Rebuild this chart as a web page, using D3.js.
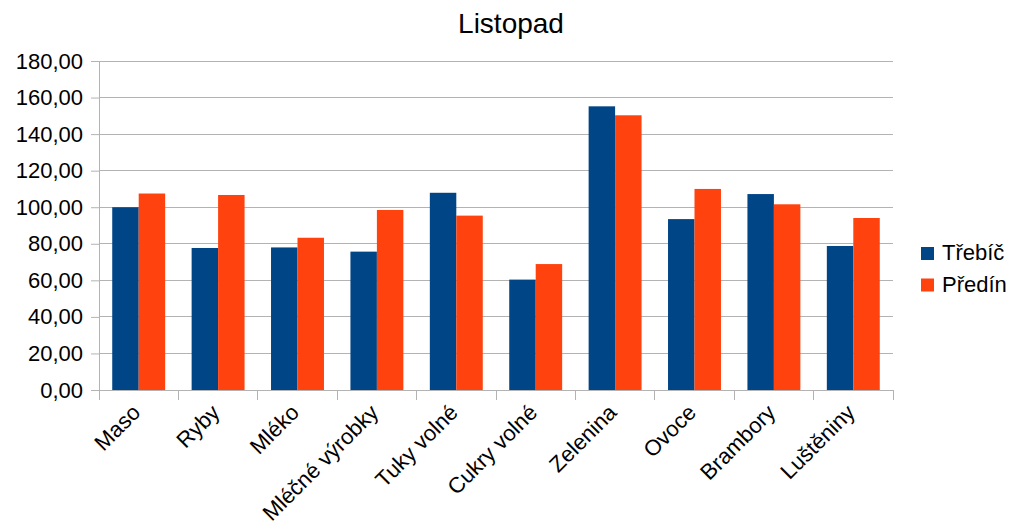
<!DOCTYPE html>
<html>
<head>
<meta charset="utf-8">
<script src="https://cdn.jsdelivr.net/npm/d3@7/dist/d3.min.js"></script>
<style>
  html, body { margin: 0; padding: 0; background: #fff; }
  svg { display: block; font-family: "Liberation Sans", Arial, sans-serif; }
</style>
</head>
<body>
<svg id="chart" width="1010" height="529"></svg>
<script>
const title = "Listopad";
const categories = ["Maso", "Ryby", "Mléko", "Mléčné výrobky", "Tuky volné", "Cukry volné", "Zelenina", "Ovoce", "Brambory", "Luštěniny"];
const seriesNames = ["Třebíč", "Předín"];
const trebic = [100.0, 77.7, 78.0, 75.7, 107.9, 60.4, 155.2, 93.5, 107.2, 78.8];
const predin = [107.5, 106.7, 83.3, 98.5, 95.4, 68.9, 150.3, 110.0, 101.6, 94.1];
const yTicks = [0, 20, 40, 60, 80, 100, 120, 140, 160, 180];
const colors = ["#004586", "#ff420e"];

const svg = d3.select("#chart");
const mLeft = 99, mRight = 893, mTop = 61, mBottom = 390;

const x0 = d3.scaleBand().domain(categories).range([mLeft, mRight]).padding(0);
const x1 = d3.scaleBand().domain(seriesNames).range([0, x0.bandwidth()]).paddingOuter(0.5).paddingInner(0);
const y = d3.scaleLinear().domain([0, 180]).range([mBottom, mTop]);
const fmt = v => d3.format(".2f")(v).replace(".", ",");

// gridlines
svg.append("g").selectAll("line").data(yTicks).join("line")
  .attr("x1", mLeft).attr("x2", mRight)
  .attr("y1", d => y(d)).attr("y2", d => y(d))
  .attr("stroke", "#b3b3b3").attr("stroke-width", 1).attr("shape-rendering", "crispEdges");

// bars
const data = categories.map((c, i) => ({ c, vals: [trebic[i], predin[i]] }));
const groups = svg.append("g").selectAll("g").data(data).join("g")
  .attr("transform", d => `translate(${x0(d.c)},0)`);
groups.selectAll("rect").data(d => d.vals.map((v, j) => ({ s: seriesNames[j], v, j })))
  .join("rect")
  .attr("x", d => x1(d.s)).attr("width", x1.bandwidth())
  .attr("y", d => y(d.v)).attr("height", d => y(0) - y(d.v))
  .attr("fill", d => colors[d.j]);

// y axis
const yAxis = d3.axisLeft(y).tickValues(yTicks).tickFormat(fmt).tickSize(8).tickPadding(8);
const gy = svg.append("g").attr("transform", `translate(${mLeft},0)`).call(yAxis);
gy.select(".domain").attr("stroke", "#b3b3b3");
gy.selectAll(".tick line").attr("stroke", "#b3b3b3");
gy.selectAll(".tick text").attr("font-size", 22).attr("fill", "#000")
  .attr("font-family", "Liberation Sans, Arial, sans-serif");

// x axis
const tickPos = categories.map(c => x0(c)).concat([mRight]);
svg.append("line").attr("x1", mLeft).attr("x2", mRight).attr("y1", mBottom).attr("y2", mBottom)
  .attr("stroke", "#b3b3b3").attr("shape-rendering", "crispEdges");
svg.append("g").selectAll("line").data(tickPos).join("line")
  .attr("x1", d => d).attr("x2", d => d).attr("y1", mBottom).attr("y2", mBottom + 10)
  .attr("stroke", "#b3b3b3").attr("shape-rendering", "crispEdges");
svg.append("g").selectAll("text").data(categories).join("text")
  .attr("transform", c => `translate(${x0(c) + x0.bandwidth() / 2 - 8},${mBottom + 13}) rotate(-45)`)
  .attr("text-anchor", "end")
  .attr("dy", "0.7em")
  .attr("font-size", 22).attr("fill", "#000")
  .text(c => c);

// title
svg.append("text").attr("x", 511).attr("y", 33).attr("text-anchor", "middle")
  .attr("font-size", 28).attr("fill", "#000").text(title);

// legend
const lg = svg.append("g").selectAll("g").data(seriesNames).join("g")
  .attr("transform", (d, i) => `translate(921,${247 + i * 31.5})`);
lg.append("rect").attr("width", 13).attr("height", 13).attr("fill", (d, i) => colors[i]);
lg.append("text").attr("x", 21).attr("y", 13).attr("font-size", 22).attr("fill", "#000").text(d => d);
</script>
</body>
</html>
